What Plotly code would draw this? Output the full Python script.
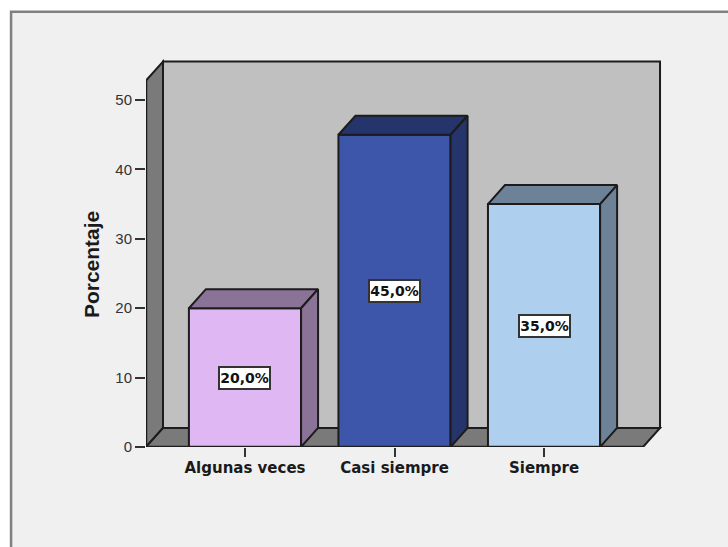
import plotly.graph_objects as go

# Chart data
categories = ["Algunas veces", "Casi siempre", "Siempre"]
percentages = [20.0, 45.0, 35.0]
value_labels = ["20,0%", "45,0%", "35,0%"]
y_ticks = [0, 10, 20, 30, 40, 50]
y_title = "Porcentaje"

# Bar colours: front face and shaded top/side faces
front_colors = ["#dfb8f3", "#3d56aa", "#aed0ee"]
shade_colors = ["#8b7297", "#25346b", "#6d8296"]

# Extruded look of the chart box, in axis units
DEPTH_X = 0.1137
DEPTH_Y = 2.74
BAR_W = 0.75
X_MIN, X_MAX = -0.662, 2.809
Y_MAX, Y_FRONT_TOP = 56.2, 52.8
X_FRONT_END = 2.662
EDGE = "#1c1c1c"

fig = go.Figure()

# Front faces of the bars
fig.add_trace(go.Bar(
    x=list(range(len(categories))), y=percentages, width=BAR_W,
    marker=dict(color=front_colors, line=dict(color=EDGE, width=2)),
    cliponaxis=False, hoverinfo="skip", showlegend=False,
))

# Top and side faces of each bar
for i, v in enumerate(percentages):
    l, r = i - BAR_W / 2, i + BAR_W / 2
    top_x = [l, r, r + DEPTH_X, l + DEPTH_X, l]
    top_y = [v, v, v + DEPTH_Y, v + DEPTH_Y, v]
    side_x = [r, r + DEPTH_X, r + DEPTH_X, r, r]
    side_y = [0, DEPTH_Y, v + DEPTH_Y, v, 0]
    for xs, ys in ((top_x, top_y), (side_x, side_y)):
        fig.add_trace(go.Scatter(
            x=xs, y=ys, mode="lines", fill="toself", fillcolor=shade_colors[i],
            line=dict(color=EDGE, width=2), cliponaxis=False,
            hoverinfo="skip", showlegend=False,
        ))

# Axis lines sit on the plot edge, so they must not be clipped
fig.add_trace(go.Scatter(
    x=[X_MIN, X_MIN, None, X_MIN, X_FRONT_END],
    y=[0, Y_FRONT_TOP, None, 0, 0],
    mode="lines", line=dict(color=EDGE, width=2.5), cliponaxis=False,
    hoverinfo="skip", showlegend=False,
))

def polygon(xs, ys):
    return "M" + " L".join(f"{x},{y}" for x, y in zip(xs, ys)) + " Z"

wall_l, wall_r = X_MIN + DEPTH_X, X_FRONT_END + DEPTH_X
wall_b, wall_t = DEPTH_Y, Y_FRONT_TOP + DEPTH_Y
box_shapes = [
    # Outer frame of the panel, running off the page to the right and bottom
    dict(type="rect", xref="paper", yref="paper", x0=-0.26, x1=1.2, y0=-0.4, y1=1.116,
         fillcolor="#f0f0f0", line=dict(color="#808080", width=2.5), layer="below"),
    # Back wall
    dict(type="rect", xref="x", yref="y", x0=wall_l, x1=wall_r, y0=wall_b, y1=wall_t,
         fillcolor="#c0c0c0", line=dict(color=EDGE, width=2), layer="below"),
    # Left side wall
    dict(type="path", xref="x", yref="y",
         path=polygon([X_MIN, wall_l, wall_l, X_MIN], [0, wall_b, wall_t, Y_FRONT_TOP]),
         fillcolor="#7a7a7a", line=dict(color=EDGE, width=2), layer="below"),
    # Floor
    dict(type="path", xref="x", yref="y",
         path=polygon([X_MIN, X_FRONT_END, wall_r, wall_l], [0, 0, wall_b, wall_b]),
         fillcolor="#7a7a7a", line=dict(color=EDGE, width=2), layer="below"),
]

# Boxed value labels centred on the bars
annotations = [
    dict(x=i, y=v / 2, xref="x", yref="y", text=f"<b>{lab}</b>", showarrow=False,
         width=49, height=20, align="center", valign="middle",
         font=dict(family="DejaVu Sans", size=14, color="#111111"),
         bgcolor="#ffffff", bordercolor="#333333", borderwidth=2, borderpad=0)
    for i, (v, lab) in enumerate(zip(percentages, value_labels))
]

# Rotated axis title, placed in paper coordinates
annotations.append(dict(
    x=-0.106, y=0.469, xref="paper", yref="paper", text=f"<b>{y_title}</b>",
    xanchor="center", yanchor="middle", textangle=-90, showarrow=False,
    font=dict(family="Liberation Sans", size=21, color="#1a1a1a"),
))

fig.update_layout(
    width=728, height=547, autosize=False,
    margin=dict(l=146, r=63, t=57, b=100, pad=0),
    paper_bgcolor="#ffffff", plot_bgcolor="rgba(0,0,0,0)",
    bargap=0.25, shapes=box_shapes, annotations=annotations,
    xaxis=dict(
        range=[X_MIN, X_MAX], tickmode="array", tickvals=list(range(len(categories))),
        ticktext=categories, ticks="outside", ticklen=9, tickwidth=2, tickcolor="#333333",
        ticklabelstandoff=-2,
        showgrid=False, zeroline=False, showline=False,
        tickfont=dict(family="DejaVu Sans", size=15, color="#1a1a1a", weight="bold"),
    ),
    yaxis=dict(
        range=[0, Y_MAX], tickmode="array", tickvals=y_ticks,
        ticks="outside", ticklen=10, tickwidth=2, tickcolor="#333333",
        showgrid=False, zeroline=False, showline=False,
        tickfont=dict(family="Liberation Sans", size=15, color="#333333"),
    ),
)

fig.write_html("out.html")
